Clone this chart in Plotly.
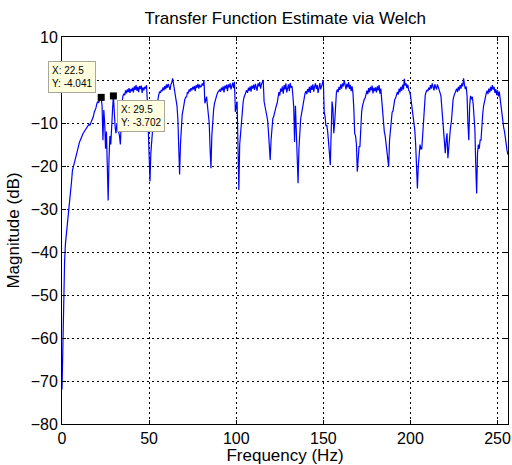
import numpy as np
import plotly.graph_objects as go

# Welch transfer-function magnitude estimate, 0.5 Hz bins from 0 to 256 Hz
freq_step_hz = 0.5
magnitude_db = [
    -72, -62, -47, -42, -38, -36, -35, -32, -29.5, -28,
    -25.5, -23.5, -21, -20, -19, -18.5, -17.8, -17, -16, -15.5,
    -14.5, -14, -13.2, -13, -12.5, -12.2, -12, -11.6, -11.4, -11,
    -10.8, -10.3, -10.5, -10, -9.6, -9, -8.5, -7.5, -7, -6.5,
    -5.5, -5, -5.3, -4.5, -4.3, -4.041, -6, -14, -7, -10,
    -16, -12, -20, -28, -18, -13, -15, -8.5, -7, -3.702,
    -8, -11, -12.4, -10, -11, -12, -13, -15, -8, -5,
    -3.7, -3.2, -3.5, -2.4, -3.1, -2.2, -2.8, -1.9, -3.0, -2.1,
    -2.6, -1.8, -2.9, -1.5, -2.3, -1.2, -2.5, -1.6, -2.8, -1.4,
    -2.1, -1.3, -3.0, -1.7, -2.4, -1.6, -2.0, -1.2, -5, -12,
    -20, -23.6, -17, -13, -11.6, -9.3, -8, -7.5, -7, -5.5,
    -4.5, -3.5, -2.7, -3.0, -2.3, -2.6, -1.7, -2.4, -1.4, -2.1,
    -1.0, -1.8, -0.9, -1.6, -2.3, -1.1, -0.6, 0.4, -0.8, -2.0,
    -3.5, -4.6, -6, -9, -15, -22, -15, -11, -8, -7,
    -5.5, -4.5, -4.0, -3.9, -2.8, -3.1, -2.2, -2.7, -1.9, -2.4,
    -1.6, -2.2, -1.4, -2.6, -1.2, -1.8, -0.9, -2.0, -1.1, -1.6,
    -1.5, -0.8, -1.3, 0.0, -5.4, -4.5, -3.9, -6, -8, -10,
    -16, -20.5, -13, -8.5, -7, -5.5, -4.5, -3.9, -3.3, -2.8,
    -2.6, -2.3, -2.7, -1.8, -2.4, -1.5, -2.9, -1.3, -2.0, -1.1,
    -2.6, -1.0, -1.7, -0.8, -2.2, -1.2, -0.6, -1.9, -0.4, -7.4,
    -6, -5, -15, -25.6, -15, -12, -9.3, -6.5, -5, -4,
    -3.1, -2.9, -2.4, -3.0, -1.8, -2.5, -1.5, -2.7, -1.3, -2.0,
    -1.1, -2.3, -0.9, -1.7, -2.5, -0.8, -1.5, -0.5, -2.0, -1.0,
    -0.3, 0.0, -5, -6, -7.5, -8.5, -9.3, -12, -15, -18.6,
    -14, -10, -9, -8.5, -7.5, -6.5, -6, -5.4, -4, -2.8,
    -3.6, -2.0, -2.7, -1.5, -3.2, -1.2, -2.2, -0.8, -2.9, -1.3,
    -1.0, -2.6, -0.7, -1.8, -1.4, -3.5, -6.2, -14.4, -6, -12,
    -18, -24, -16, -12, -9, -7.8, -6.5, -5.4, -4.5, -3.1,
    -2.6, -3.3, -2.1, -2.8, -1.6, -3.0, -1.3, -2.3, -1.0, -2.7,
    -1.5, -0.8, -2.1, -1.2, -3.0, -1.6, -0.7, -2.2, -1.4, -0.2,
    0.0, -7.4, -8.5, -10.7, -10.5, -12, -14, -17, -19.8, -12,
    -5, -6.6, -12.4, -10, -5, -3, -2.2, -2.8, -1.6, -2.3,
    -1.0, -2.0, -0.8, -1.5, 0.0, -1.3, -2.2, -0.9, -1.7, -0.5,
    -2.1, -1.1, -2.6, -1.5, -3.0, -6.6, -12.4, -13, -15, -21.3,
    -18, -15.5, -15.5, -11, -7.4, -6, -5, -4.5, -4.2, -3.6,
    -2.5, -3.3, -1.9, -2.9, -1.6, -2.4, -1.3, -3.1, -1.8, -2.6,
    -1.7, -2.9, -1.5, -2.4, -1.2, -3.2, -2.0, -4.5, -7.4, -11.6,
    -12, -13, -14.5, -16, -18, -20.2, -14, -11, -8.5, -7.5,
    -7.2, -5.5, -4.5, -4.2, -3.5, -2.8, -3.4, -2.0, -2.9, -1.6,
    -2.5, -1.1, -2.2, 0.3, -1.3, -0.8, -1.9, -1.1, -2.4, -2.7,
    -3.5, -5, -6.5, -7.7, -9.5, -11.6, -15, -20, -25.2, -20,
    -16.3, -15, -16, -16, -13, -10, -6, -3.5, -2.8, -2.3,
    -2.6, -1.8, -2.3, -1.2, -2.0, -0.8, -1.6, -2.4, -1.0, -1.8,
    -2.2, -1.0, -1.9, -2.6, -3.0, -3.7, -6, -8.5, -12, -14,
    -17, -14, -12.4, -18.2, -15, -12.4, -11, -9.7, -6, -4.5,
    -3.7, -3.0, -2.5, -2.0, -2.8, -1.6, -2.4, -1.2, -2.0, -0.8,
    -1.5, 0.4, -1.0, -2.1, -1.5, -3.7, -10, -14, -6, -3.7,
    -4.5, -3.9, -5.5, -8.5, -11.6, -20, -26.4, -17, -15, -16,
    -14, -14, -10, -7.8, -6, -4.8, -3.7, -3.1, -2.5, -3.3,
    -2.0, -2.9, -1.6, -2.5, -1.2, -2.2, -1.6, -3.0, -2.1, -3.5,
    -2.4, -3.8, -2.7, -4.5, -6, -8.5, -10, -11, -12, -14,
    -15, -16.5, -17.4,
]
freq_hz = np.arange(len(magnitude_db)) * freq_step_hz

# Data tips placed on two bins of the curve
tip_freqs = [22.5, 29.5]
x_ticks = [0, 50, 100, 150, 200, 250]
y_ticks = [-80, -70, -60, -50, -40, -30, -20, -10, 0, 10]

mag = np.array(magnitude_db)
tip_idx = [int(round(f / freq_step_hz)) for f in tip_freqs]
tip_x = [float(freq_hz[i]) for i in tip_idx]
tip_y = [float(mag[i]) for i in tip_idx]

font_family = "Liberation Sans, Arial, sans-serif"

fig = go.Figure()
fig.add_trace(go.Scatter(
    x=freq_hz, y=mag, mode="lines",
    line=dict(color="#0000ff", width=1.2),
    showlegend=False, hoverinfo="skip",
))
fig.add_trace(go.Scatter(
    x=tip_x, y=tip_y, mode="markers",
    marker=dict(symbol="square", size=7, color="black"),
    showlegend=False, hoverinfo="skip",
))

tip_layout = [
    dict(xanchor="right", yanchor="bottom", xshift=-5, yshift=4),
    dict(xanchor="left", yanchor="top", xshift=3.5, yshift=-4),
]
for x, y, pos in zip(tip_x, tip_y, tip_layout):
    fig.add_annotation(
        x=x, y=y, xref="x", yref="y", showarrow=False,
        text=f"X: {x:g}<br>Y: {y:.3f}",
        align="left", font=dict(family=font_family, size=10, color="black"),
        bgcolor="#ffffe0", bordercolor="#a8a89a", borderwidth=1, borderpad=3,
        **pos,
    )

axis_common = dict(
    showline=True, linecolor="black", linewidth=1, mirror="ticks",
    ticks="inside", ticklen=4, tickcolor="black",
    showgrid=True, gridcolor="black", gridwidth=1, griddash="2px,3px",
    zeroline=False,
    tickfont=dict(family=font_family, size=16, color="black"),
)

fig.update_xaxes(
    range=[0, 256], tickvals=x_ticks,
    title=dict(text="Frequency (Hz)", font=dict(family=font_family, size=17, color="black"), standoff=6),
    **axis_common,
)
fig.update_yaxes(
    range=[-80, 10], tickvals=y_ticks,
    title=dict(text="Magnitude (dB)", font=dict(family=font_family, size=17, color="black"), standoff=6),
    **axis_common,
)

fig.update_layout(
    width=512, height=465,
    margin=dict(l=62, r=4, t=37, b=41, autoexpand=False),
    paper_bgcolor="white", plot_bgcolor="white",
    title=dict(
        text="Transfer Function Estimate via Welch",
        font=dict(family=font_family, size=17, color="black"),
        x=0.557, xanchor="center", yref="container", y=0.962, yanchor="middle",
    ),
)

fig.write_html("out.html")
